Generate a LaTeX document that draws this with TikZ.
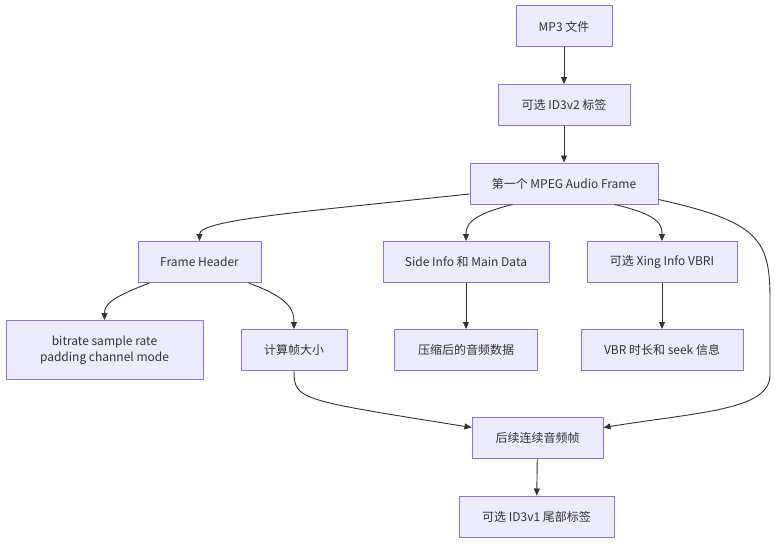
\documentclass[tikz,border=0pt]{standalone}
\usepackage{fontspec}
\setmainfont{Noto Sans CJK SC}
\usepackage{tikz}
\usetikzlibrary{positioning, arrows.meta}
\definecolor{boxfill}{HTML}{ECECFF}
\definecolor{boxline}{HTML}{9370DB}
\definecolor{linegray}{HTML}{333333}
\tikzstyle{box} = [rectangle, minimum height=41pt, inner xsep=0pt, text centered, draw=boxline, line width=1pt, fill=boxfill, text=linegray, font=\fontsize{12}{16}\selectfont]
\tikzstyle{arrow} = [draw=linegray, line width=0.9pt, ->, >={Stealth[length=7pt, width=6pt, inset=0pt]}]

\begin{document}
\begin{tikzpicture}[x=1pt, y=-1pt, node distance=78.5pt]
\useasboundingbox (0,0) rectangle (784,551);
\node (mp3) [box, minimum width=96pt] at (564,26.5) {MP3 文件};
\node (id3v2) [box, minimum width=132pt, below of=mp3] {可选 ID3v2 标签};
\node (frame) [box, minimum width=188pt, below of=id3v2] {第一个 MPEG Audio Frame};
\node (side) [box, minimum width=166pt, below of=frame, xshift=-98pt] {Side Info 和 Main Data};
\node (xing) [box, minimum width=150pt, below of=frame, xshift=98pt] {可选 Xing Info VBRI};
\node (header) [box, minimum width=123pt, below of=frame, xshift=-364.5pt] {Frame Header};
\node (bitrate) [box, minimum width=197pt, minimum height=59pt, align=center, below of=header, xshift=-95pt, yshift=-9.5pt] {bitrate sample rate\\padding channel mode};
\node (calc) [box, minimum width=106pt, below of=header, xshift=94.5pt, yshift=-9.5pt] {计算帧大小};
\node (compressed) [box, minimum width=143pt, below of=side, yshift=-9.5pt] {压缩后的音频数据};
\node (vbr) [box, minimum width=162pt, below of=xing, yshift=-9.5pt] {VBR 时长和 seek 信息};
\node (next) [box, minimum width=131pt, below of=compressed, xshift=71.5pt, yshift=-9.5pt] {后续连续音频帧};
\node (id3v1) [box, minimum width=155pt, below of=next, xshift=-1pt] {可选 ID3v1 尾部标签};
\draw [arrow] (mp3) -- (id3v2);
\draw [arrow] (id3v2) -- (frame);
\draw [arrow] ([yshift=-10.5pt]frame.west) .. controls (300,212) and (header.north |- 0,220) .. (header.north);
\draw [arrow] ([xshift=43pt]frame.south west) .. controls (470,215) and (466,225) .. (side.north);
\draw [arrow] ([xshift=-44pt]frame.south east) .. controls (660,215) and (662,225) .. (xing.north);
\draw [arrow] ([yshift=-16pt]frame.east) .. controls (760,222) and (770,240) .. (770,300) -- (770,375) .. controls (770,410) and (700,412) .. ([yshift=10.5pt]next.east);
\draw [arrow] ([xshift=12pt]header.south west) .. controls (110,298) and (104.5,305) .. (bitrate.north);
\draw [arrow] ([xshift=-13pt]header.south east) .. controls (290,298) and (294,310) .. (calc.north);
\draw [arrow] (side) -- (compressed);
\draw [arrow] (xing) -- (vbr);
\draw [arrow] (calc.south) .. controls (294,400) and (300,400) .. ([yshift=10.5pt]next.west);
\draw [arrow] (next) -- (id3v1);
\end{tikzpicture}
\end{document}
